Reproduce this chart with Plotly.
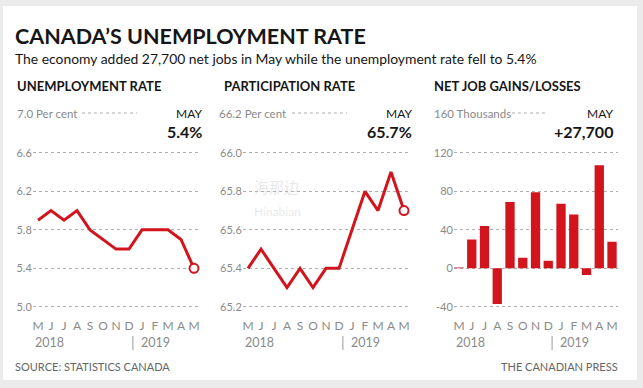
import plotly.graph_objects as go

# ---------------- data ----------------
months = ["M", "J", "J", "A", "S", "O", "N", "D", "J", "F", "M", "A", "M"]
years = ["2018", "2019"]
unemployment = [5.9, 6.0, 5.9, 6.0, 5.8, 5.7, 5.6, 5.6, 5.8, 5.8, 5.8, 5.7, 5.4]
participation = [65.4, 65.5, 65.4, 65.3, 65.4, 65.3, 65.4, 65.4, 65.6, 65.8, 65.7, 65.9, 65.7]
net_jobs = [1, 30, 44, -37, 69, 11, 79, 8, 67, 56, -7, 107, 27.7]

ticks_unemp = [5.0, 5.4, 5.8, 6.2, 6.6]
ticks_part = [65.2, 65.4, 65.6, 65.8, 66.0]
ticks_jobs = [-40, 0, 40, 80, 120]
top_labels = ["7.0 Per cent", "66.2 Per cent", "160 Thousands"]
headers = ["UNEMPLOYMENT RATE", "PARTICIPATION RATE", "NET JOB GAINS/LOSSES"]
latest_labels = ["5.4%", "65.7%", "+27,700"]
latest_month = "MAY"

title = "CANADA’S UNEMPLOYMENT RATE"
subtitle = "The economy added 27,700 net jobs in May while the unemployment rate fell to 5.4%"
source = "SOURCE: STATISTICS CANADA"
credit = "THE CANADIAN PRESS"

# ---------------- layout helpers ----------------
W, H = 643, 388
FONT = "Lato, 'Liberation Sans', Arial, sans-serif"
RED = "#d2141c"
GRID = "#b0b0b0"
TICKC = "#8a8a8a"
DARK = "#161616"


def px(x):
    return x / W


def py(y):
    return 1 - y / H


ydom = [py(316.5), py(114.3)]
xdoms = [[px(32.8), px(200.5)], [px(242.8), px(410.5)], [px(453.9), px(618.4)]]
yranges = [[4.9, 7.0], [65.15, 66.2], [-50, 160]]
tickvals_list = [ticks_unemp, ticks_part, ticks_jobs]
ticktext_list = [[f"{v:.1f}" for v in ticks_unemp],
                 [f"{v:.1f}" for v in ticks_part],
                 [f"{v:d}" for v in ticks_jobs]]

fig = go.Figure()
idx = list(range(len(months)))

# line panels
for k, series in enumerate([unemployment, participation]):
    xa = "x" if k == 0 else "x2"
    ya = "y" if k == 0 else "y2"
    fig.add_trace(go.Scatter(x=idx, y=series, mode="lines", xaxis=xa, yaxis=ya,
                             line=dict(color=RED, width=3), hoverinfo="skip",
                             showlegend=False))
    fig.add_trace(go.Scatter(x=[idx[-1]], y=[series[-1]], mode="markers", xaxis=xa, yaxis=ya,
                             marker=dict(size=9, color="white", line=dict(color=RED, width=2)),
                             hoverinfo="skip", showlegend=False))

# bar panel
fig.add_trace(go.Bar(x=idx, y=net_jobs, xaxis="x3", yaxis="y3", marker=dict(color=RED, line=dict(width=0)),
                     hoverinfo="skip", showlegend=False))

layout = dict(
    width=W, height=H, autosize=False,
    margin=dict(l=0, r=0, t=0, b=0),
    paper_bgcolor="#ebebeb", plot_bgcolor="rgba(0,0,0,0)",
    font=dict(family=FONT, color=DARK),
    bargap=0.27,
    showlegend=False,
)

xstarts = [15, 217, 432]
dot_spans = [(82, 137), (292, 347), (512, 548)]
rights = [204, 414, 615]
header_x = [15, 222, 432]
sep_pos = 7.3

annotations = []
shapes = [dict(type="rect", xref="paper", yref="paper", x0=px(3), x1=px(637), y0=py(380), y1=py(6),
               fillcolor="white", line=dict(width=0), layer="below")]

for k in range(3):
    sx = "" if k == 0 else str(k + 1)
    layout["xaxis" + sx] = dict(
        domain=xdoms[k], anchor="y" + sx, range=[-0.4, 12.5],
        tickmode="array", tickvals=idx, ticktext=months,
        showgrid=False, zeroline=False, showline=False, ticks="",
        tickfont=dict(size=12, color=TICKC, family=FONT), fixedrange=True,
    )
    layout["yaxis" + sx] = dict(
        domain=ydom, anchor="x" + sx, range=yranges[k],
        tickmode="array", tickvals=tickvals_list[k], ticktext=ticktext_list[k],
        showgrid=True, gridcolor=GRID, gridwidth=1, griddash="dot",
        zeroline=False, showline=False, ticks="",
        tickfont=dict(size=11, color=TICKC, family=FONT), fixedrange=True,
    )
    # top label row
    annotations.append(dict(text=top_labels[k], x=px(xstarts[k]), y=py(113), xref="paper", yref="paper",
                            xanchor="left", yanchor="middle", showarrow=False,
                            font=dict(size=11.5, color=TICKC)))
    shapes.append(dict(type="line", xref="paper", yref="paper", x0=px(dot_spans[k][0]), x1=px(dot_spans[k][1]),
                       y0=py(113), y1=py(113), line=dict(color=GRID, width=1, dash="dot")))
    annotations.append(dict(text=latest_month, x=px(rights[k]), y=py(113), xref="paper", yref="paper",
                            xanchor="right", yanchor="middle", showarrow=False,
                            font=dict(size=12, color=DARK)))
    annotations.append(dict(text="<b>" + latest_labels[k] + "</b>", x=px(rights[k]), y=py(131), xref="paper",
                            yref="paper", xanchor="right", yanchor="middle", showarrow=False,
                            font=dict(size=16, color=DARK)))
    annotations.append(dict(text="<b>" + headers[k] + "</b>", x=px(header_x[k]), y=py(86), xref="paper",
                            yref="paper", xanchor="left", yanchor="middle", showarrow=False,
                            font=dict(size=13, color=DARK)))
    # year labels
    xr = "x" + sx
    annotations.append(dict(text=years[0], x=-0.4, xref=xr, y=py(342), yref="paper", xanchor="left",
                            yanchor="middle", showarrow=False, font=dict(size=12.5, color=TICKC)))
    annotations.append(dict(text=years[1], x=7.75, xref=xr, y=py(342), yref="paper", xanchor="left",
                            yanchor="middle", showarrow=False, font=dict(size=12.5, color=TICKC)))
    shapes.append(dict(type="line", xref=xr, yref="paper", x0=sep_pos, x1=sep_pos, y0=py(336), y1=py(350),
                       line=dict(color="#9a9a9a", width=1)))

annotations += [
    dict(text="<b>" + title + "</b>", x=px(13), y=py(36), xref="paper", yref="paper", xanchor="left",
         yanchor="middle", showarrow=False, font=dict(size=21.5, color=DARK)),
    dict(text=subtitle, x=px(13), y=py(58), xref="paper", yref="paper", xanchor="left",
         yanchor="middle", showarrow=False, font=dict(size=13.9, color=DARK)),
    dict(text=source, x=px(13), y=py(366), xref="paper", yref="paper", xanchor="left",
         yanchor="middle", showarrow=False, font=dict(size=11, color="#666666")),
    dict(text=credit, x=px(620), y=py(366), xref="paper", yref="paper", xanchor="right",
         yanchor="middle", showarrow=False, font=dict(size=11, color="#666666")),
    dict(text="海那边", x=px(252), y=py(186), xref="paper", yref="paper", xanchor="left",
         yanchor="middle", showarrow=False,
         font=dict(size=15, color="rgba(190,190,190,0.35)", family="Noto Sans CJK SC")),
    dict(text="Hinabian", x=px(252), y=py(212), xref="paper", yref="paper", xanchor="left",
         yanchor="middle", showarrow=False, font=dict(size=12, color="rgba(190,190,190,0.35)")),
]

layout["annotations"] = annotations
layout["shapes"] = shapes
fig.update_layout(**layout)

fig.write_html(
    "out.html",
    config={"displayModeBar": False, "staticPlot": True},
    post_script="document.body.style.margin='0';document.body.style.padding='0';"
                "document.body.style.background='#ebebeb';document.body.style.overflow='hidden';",
)
